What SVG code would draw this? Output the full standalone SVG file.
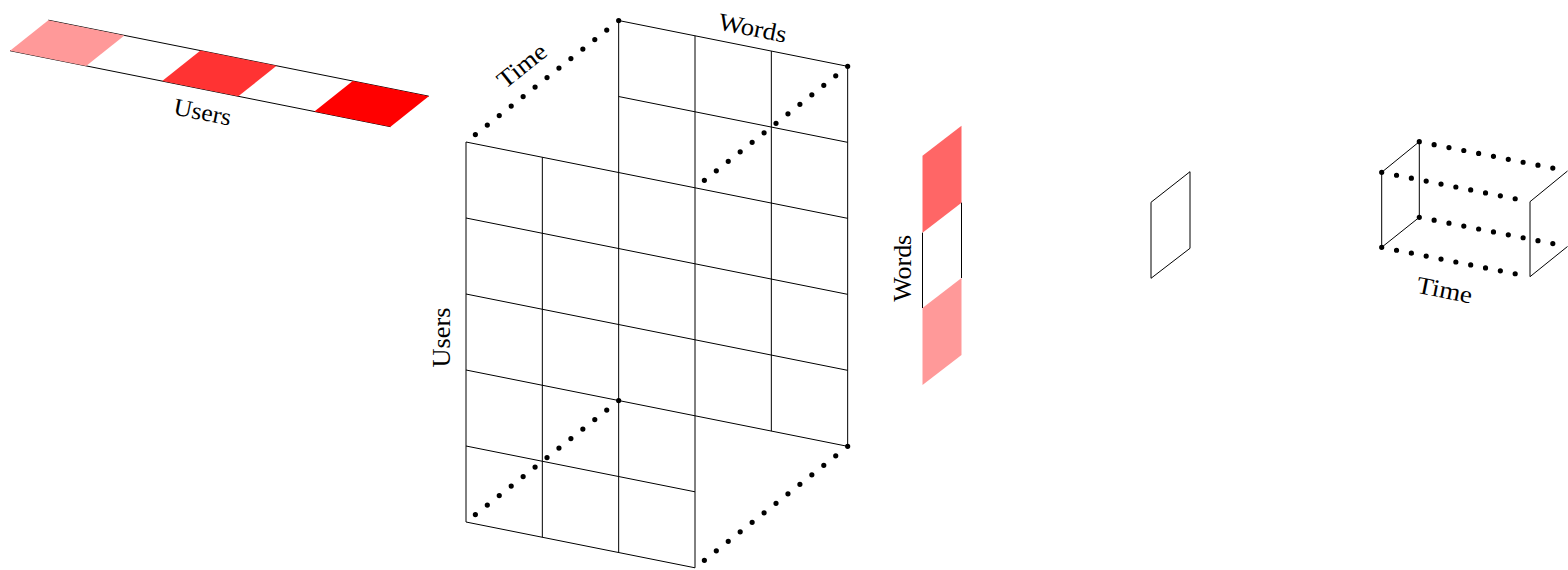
<svg xmlns="http://www.w3.org/2000/svg" width="1568" height="570" viewBox="0 0 1568 570">
<style>
.ln{stroke:#000;stroke-width:1;fill:none}
.dt{stroke:#000;stroke-width:5.2;stroke-linecap:round;fill:none;stroke-dasharray:0 15.26}
.dtb{stroke:#000;stroke-width:5.2;stroke-linecap:round;fill:none;stroke-dasharray:0 15.12}
.lbl{font-family:"Liberation Serif","Times New Roman",serif;font-size:24.5px;fill:#000;text-anchor:middle}
.r40{fill:#ff9999}
.r60{fill:#ff6666}
.r80{fill:#ff3333}
.r100{fill:#ff0000}
</style>
<rect width="1568" height="570" fill="#fff"/>
<g id="user-vector">
<path class="ln" d="M48.3,20.2L428.8,96.2M10,50.7L390.5,126.7"/>
<polygon class="r40" points="10,50.7 86.1,65.9 124.4,35.4 48.3,20.2"/>
<polygon class="r80" points="162.2,81.1 238.3,96.3 276.6,65.8 200.5,50.6"/>
<polygon class="r100" points="314.4,111.5 390.5,126.7 428.8,96.2 352.7,81"/>
<text class="lbl" x="201" y="120" textLength="58" lengthAdjust="spacingAndGlyphs" transform="rotate(11.3 201 120)">Users</text>
</g>
<g id="tensor">
<path class="ln" d="M466,142V522M542.33,157.27V537.27M618.67,20.53V552.53M695,35.8V567.8M771.33,51.07V431.07M847.67,66.33V446.33"/>
<path class="ln" d="M618.67,20.53L847.67,66.33M618.67,96.53L847.67,142.33M466,142L847.67,218.33M466,218L847.67,294.33M466,294L847.67,370.33M466,370L847.67,446.33M466,446L695,491.8M466,522L695,567.8"/>
<path class="dt" d="M618.67,20.53L466,142M847.67,66.33L695,187.8M618.67,400.53L466,522M847.67,446.33L695,567.8"/>
<text class="lbl" x="527" y="72" textLength="56" lengthAdjust="spacingAndGlyphs" transform="rotate(-38.5 527 72)">Time</text>
<text class="lbl" x="751" y="36" textLength="69" lengthAdjust="spacingAndGlyphs" transform="rotate(11.3 751 36)">Words</text>
<text class="lbl" x="450" y="337.5" textLength="60" lengthAdjust="spacingAndGlyphs" transform="rotate(-90 450 337.5)">Users</text>
</g>
<g id="word-vector">
<polygon class="r60" points="922.5,155.7 961.5,125.7 961.5,202.7 922.5,232.7"/>
<polygon class="r40" points="922.5,308 961.5,278 961.5,355 922.5,385"/>
<path class="ln" d="M922.5,232.7V308M961.5,202.7V278"/>
<text class="lbl" x="911.5" y="268.3" textLength="67" lengthAdjust="spacingAndGlyphs" transform="rotate(-90 911.5 268.3)">Words</text>
</g>
<g id="slice">
<polygon class="ln" points="1151,202.3 1190,171.7 1190,248.3 1151,278.3"/>
</g>
<g id="time-vector">
<polygon class="ln" points="1381.7,172.3 1419.3,141.7 1419.3,217.3 1381.7,247.3"/>
<path class="ln" d="M1567.5,171L1530,201.7V276.7L1567.5,246.5"/>
<path class="dtb" d="M1381.7,172.3L1530,201.7M1419.3,141.7L1567.5,171M1419.3,217.3L1567.5,246.5M1381.7,247.3L1530,276.7"/>
<text class="lbl" x="1443" y="298" textLength="56" lengthAdjust="spacingAndGlyphs" transform="rotate(11.3 1443 298)">Time</text>
</g>
<g id="connectors"/>
</svg>
